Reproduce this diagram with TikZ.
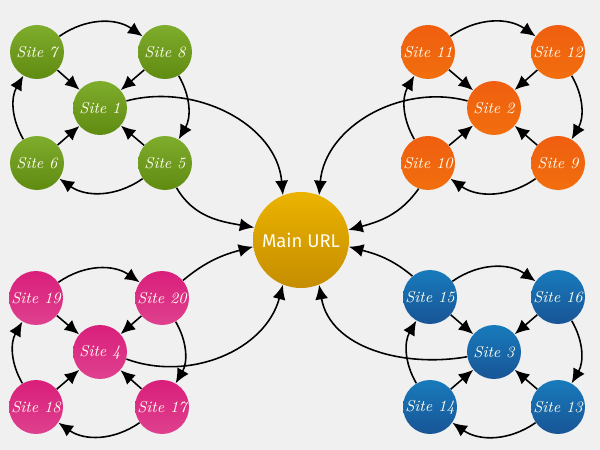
\documentclass[tikz,border=0pt]{standalone}
\usepackage{fontspec}
\usepackage{tikz}
\usetikzlibrary{arrows.meta}
\usetikzlibrary{positioning}
\newfontfamily\urlfont{Fira Sans}
\tikzset{link/.style = {-{Latex[length=2.9mm,width=2.6mm]}, line width=0.9pt, black},
         site/.style = {circle, minimum size=1.08cm, inner sep=0pt,
                        text=white!94!yellow, font=\itshape\small},
         hub/.style = {circle, minimum size=1.92cm, inner sep=0pt,
                       top color=gold!85!yellow, bottom color=gold!85!black,
                       text=white!94!yellow, font=\urlfont\fontsize{10.5}{12}\selectfont}}
\definecolor{bg}{rgb}{0.94, 0.94, 0.94}
\definecolor{gold}{rgb}{0.91, 0.65, 0.0}
\definecolor{mgreen}{rgb}{0.44, 0.64, 0.08}
\definecolor{morange}{rgb}{0.94, 0.37, 0.06}
\definecolor{mpink}{rgb}{0.85, 0.12, 0.48}
\definecolor{mblue}{rgb}{0.11, 0.39, 0.69}

\begin{document}
\begin{tikzpicture}
    \fill [bg] (0, 0) rectangle (12, 9);
    \useasboundingbox (0, 0) rectangle (12, 9);

    \node [hub] (main) at (6.02, 4.2) {Main URL};

    % green group
    \node [site, top color=mgreen!90!white, bottom color=mgreen!85!black] (s1) at (2.0, 6.84) {Site 1};
    \node [site, top color=mgreen!90!white, bottom color=mgreen!85!black] (s7) at (0.74, 7.96) {Site 7};
    \node [site, top color=mgreen!90!white, bottom color=mgreen!85!black] (s8) at (3.3, 7.96) {Site 8};
    \node [site, top color=mgreen!90!white, bottom color=mgreen!85!black] (s6) at (0.74, 5.74) {Site 6};
    \node [site, top color=mgreen!90!white, bottom color=mgreen!85!black] (s5) at (3.3, 5.74) {Site 5};

    % orange group
    \node [site, top color=morange, bottom color=morange!90!yellow] (s2) at (9.88, 6.84) {Site 2};
    \node [site, top color=morange, bottom color=morange!90!yellow] (s11) at (8.56, 7.96) {Site 11};
    \node [site, top color=morange, bottom color=morange!90!yellow] (s12) at (11.16, 7.96) {Site 12};
    \node [site, top color=morange, bottom color=morange!90!yellow] (s10) at (8.56, 5.74) {Site 10};
    \node [site, top color=morange, bottom color=morange!90!yellow] (s9) at (11.16, 5.74) {Site 9};

    % pink group
    \node [site, top color=mpink, bottom color=mpink!85!white] (s4) at (2.0, 1.96) {Site 4};
    \node [site, top color=mpink, bottom color=mpink!85!white] (s19) at (0.72, 3.04) {Site 19};
    \node [site, top color=mpink, bottom color=mpink!85!white] (s20) at (3.24, 3.04) {Site 20};
    \node [site, top color=mpink, bottom color=mpink!85!white] (s18) at (0.72, 0.86) {Site 18};
    \node [site, top color=mpink, bottom color=mpink!85!white] (s17) at (3.24, 0.86) {Site 17};

    % blue group
    \node [site, top color=mblue!85!cyan, bottom color=mblue!85!black] (s3) at (9.88, 1.96) {Site 3};
    \node [site, top color=mblue!85!cyan, bottom color=mblue!85!black] (s15) at (8.6, 3.06) {Site 15};
    \node [site, top color=mblue!85!cyan, bottom color=mblue!85!black] (s16) at (11.16, 3.06) {Site 16};
    \node [site, top color=mblue!85!cyan, bottom color=mblue!85!black] (s14) at (8.6, 0.86) {Site 14};
    \node [site, top color=mblue!85!cyan, bottom color=mblue!85!black] (s13) at (11.16, 0.86) {Site 13};

    % rings
    \draw [link] (s7) to [bend left=35] (s8);
    \draw [link] (s8) to [bend left=30] (s5);
    \draw [link] (s5) to [bend left=35] (s6);
    \draw [link] (s6) to [bend left=30] (s7);
    \draw [link] (s11) to [bend left=35] (s12);
    \draw [link] (s12) to [bend left=30] (s9);
    \draw [link] (s9) to [bend left=35] (s10);
    \draw [link] (s10) to [bend left=30] (s11);
    \draw [link] (s19) to [bend left=35] (s20);
    \draw [link] (s20) to [bend left=30] (s17);
    \draw [link] (s17) to [bend left=35] (s18);
    \draw [link] (s18) to [bend left=30] (s19);
    \draw [link] (s15) to [bend left=35] (s16);
    \draw [link] (s16) to [bend left=30] (s13);
    \draw [link] (s13) to [bend left=35] (s14);
    \draw [link] (s14) to [bend left=30] (s15);

    % spokes
    \draw [link] (s7) -- (s1);
    \draw [link] (s8) -- (s1);
    \draw [link] (s6) -- (s1);
    \draw [link] (s5) -- (s1);
    \draw [link] (s11) -- (s2);
    \draw [link] (s12) -- (s2);
    \draw [link] (s10) -- (s2);
    \draw [link] (s9) -- (s2);
    \draw [link] (s19) -- (s4);
    \draw [link] (s20) -- (s4);
    \draw [link] (s18) -- (s4);
    \draw [link] (s17) -- (s4);
    \draw [link] (s15) -- (s3);
    \draw [link] (s16) -- (s3);
    \draw [link] (s14) -- (s3);
    \draw [link] (s13) -- (s3);

    % to the main url
    \draw [link] (s1.15) to [out=15, in=95] (main.112);
    \draw [link] (s5.-65) to [out=-60, in=170] (main.165);
    \draw [link] (s2.165) to [out=165, in=85] (main.68);
    \draw [link] (s10.-110) to [out=-125, in=15] (main.12);
    \draw [link] (s20.40) to [out=40, in=195] (main.188);
    \draw [link] (s4.-15) to [out=-20, in=-105] (main.-112);
    \draw [link] (s15.130) to [out=140, in=-15] (main.-8);
    \draw [link] (s3.190) to [out=190, in=-80] (main.-68);
\end{tikzpicture}
\end{document}
